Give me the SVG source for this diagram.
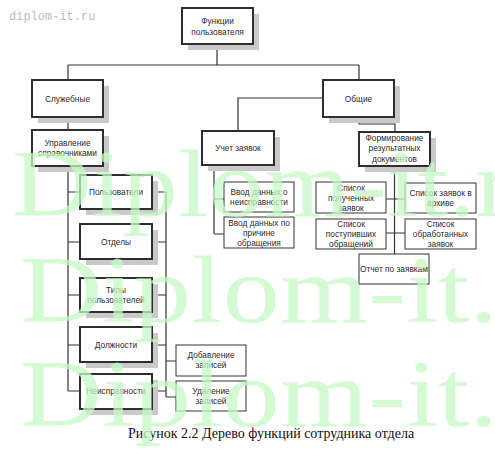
<svg xmlns="http://www.w3.org/2000/svg" width="495" height="460" viewBox="0 0 495 460">
<style>
.bg{fill:#ffffff}
.sh{fill:#c9c9c9}
.bx{fill:#ffffff;stroke:#2e2e2e;stroke-width:2}
.tb{fill:#ffffff;stroke:#333333;stroke-width:1}
.t{font-family:"Liberation Sans",Arial,sans-serif;font-size:8.3px;fill:#2a2a2a;text-anchor:middle;dominant-baseline:central}
.c{fill:none;stroke:#333333;stroke-width:1.2}
.cap{font-family:"Liberation Serif","Times New Roman",serif;font-size:14px;fill:#111111;text-anchor:middle}
.wm{font-family:"Liberation Serif","Times New Roman",serif;font-size:96px;fill:#c6f9c6;opacity:0.75}
.wm2{font-family:"Liberation Mono","Courier New",monospace;font-size:12px;fill:#c6b9b9}
</style>
<rect class="bg" x="0" y="0" width="495" height="460"/>
<text class="wm2" x="9" y="20">diplom-it.ru</text>

<g id="connectors">
<path class="c" d="M217,44 V65 M68,65 H359 M68,65 V80 M359,65 V80"/>
<path class="c" d="M68,117 V130"/>
<path class="c" d="M323,98 H238 V131"/>
<path class="c" d="M359,117 V124 H395 V132"/>
<path class="c" d="M68,166 V391 M68,192 H80 M68,242 H80 M68,295 H80 M68,345 H80 M68,391 H80"/>
<path class="c" d="M152,192 H166 M152,242 H166 M152,295 H166 M152,345 H166 M152,391 H166 M166,192 V397 M166,361 H176 M166,397 H176"/>
<path class="c" d="M214,165 V234 M214,199 H224 M214,234 H224"/>
<path class="c" d="M394.5,166 V254 M386,199 H405 M386,233 H405"/>
</g>

<g id="n-functions">
<rect class="sh" x="188" y="14" width="71" height="36"/>
<rect class="bx" x="182" y="8" width="71" height="36"/>
<text class="t" x="217.5" y="21">Функции</text>
<text class="t" x="217.5" y="32">пользователя</text>
</g>
<g id="n-service">
<rect class="sh" x="38" y="86" width="71" height="37"/>
<rect class="bx" x="32" y="80" width="71" height="37"/>
<text class="t" x="67.5" y="98.5">Служебные</text>
</g>
<g id="n-common">
<rect class="sh" x="329" y="86" width="71" height="37"/>
<rect class="bx" x="323" y="80" width="71" height="37"/>
<text class="t" x="358.5" y="98.5">Общие</text>
</g>
<g id="n-manage">
<rect class="sh" x="38" y="136" width="71" height="36"/>
<rect class="bx" x="32" y="130" width="71" height="36"/>
<text class="t" x="67.5" y="143">Управление</text>
<text class="t" x="67.5" y="153">справочниками</text>
</g>
<g id="n-requests">
<rect class="sh" x="208" y="137" width="72" height="34"/>
<rect class="bx" x="202" y="131" width="72" height="34"/>
<text class="t" x="238" y="148">Учет заявок</text>
</g>
<g id="n-docs">
<rect class="sh" x="365" y="138" width="71" height="34"/>
<rect class="bx" x="359" y="132" width="71" height="34"/>
<text class="t" x="394.5" y="137.5">Формирование</text>
<text class="t" x="394.5" y="148">результатных</text>
<text class="t" x="394.5" y="158.5">документов</text>
</g>
<g id="n-users">
<rect class="sh" x="86" y="181" width="72" height="34"/>
<rect class="bx" x="80" y="175" width="72" height="34"/>
<text class="t" x="116" y="192">Пользователи</text>
</g>
<g id="n-depts">
<rect class="sh" x="86" y="230" width="72" height="35"/>
<rect class="bx" x="80" y="224" width="72" height="35"/>
<text class="t" x="116" y="242">Отделы</text>
</g>
<g id="n-usertypes">
<rect class="sh" x="86" y="284" width="72" height="34"/>
<rect class="bx" x="80" y="278" width="72" height="34"/>
<text class="t" x="116" y="289.5">Типы</text>
<text class="t" x="116" y="299.5">пользователей</text>
</g>
<g id="n-positions">
<rect class="sh" x="86" y="333" width="72" height="35"/>
<rect class="bx" x="80" y="327" width="72" height="35"/>
<text class="t" x="116" y="344.5">Должности</text>
</g>
<g id="n-faults">
<rect class="sh" x="86" y="380" width="72" height="35"/>
<rect class="bx" x="80" y="374" width="72" height="35"/>
<text class="t" x="116" y="391">Неисправности</text>
</g>
<g id="n-add">
<rect class="tb" x="176" y="345" width="70" height="31"/>
<text class="t" x="211" y="354.5">Добавление</text>
<text class="t" x="211" y="364.5">записей</text>
</g>
<g id="n-del">
<rect class="tb" x="176" y="381" width="70" height="30"/>
<text class="t" x="211" y="390.5">Удаление</text>
<text class="t" x="211" y="400.5">записей</text>
</g>
<g id="n-input-fault">
<rect class="tb" x="224" y="182" width="70" height="30"/>
<text class="t" x="259" y="192">Ввод данных о</text>
<text class="t" x="259" y="202">неисправности</text>
</g>
<g id="n-input-reason">
<rect class="tb" x="224" y="217" width="70" height="31"/>
<text class="t" x="259" y="223">Ввод данных по</text>
<text class="t" x="259" y="233">причине</text>
<text class="t" x="259" y="243">обращения</text>
</g>
<g id="n-received">
<rect class="tb" x="316" y="182" width="70" height="31"/>
<text class="t" x="351" y="187.5">Список</text>
<text class="t" x="351" y="197.5">полученных</text>
<text class="t" x="351" y="207.5">заявок</text>
</g>
<g id="n-archive">
<rect class="tb" x="405" y="183" width="71" height="30"/>
<text class="t" x="440.5" y="193">Список заявок в</text>
<text class="t" x="440.5" y="203">архиве</text>
</g>
<g id="n-incoming">
<rect class="tb" x="316" y="219" width="70" height="30"/>
<text class="t" x="351" y="224">Список</text>
<text class="t" x="351" y="234">поступивших</text>
<text class="t" x="351" y="244">обращений</text>
</g>
<g id="n-processed">
<rect class="tb" x="405" y="219" width="71" height="30"/>
<text class="t" x="440.5" y="224">Список</text>
<text class="t" x="440.5" y="234">обработанных</text>
<text class="t" x="440.5" y="244">заявок</text>
</g>
<g id="n-report">
<rect class="tb" x="359" y="254" width="70" height="30"/>
<text class="t" x="394" y="269">Отчет по заявкам</text>
</g>

<text class="cap" x="271" y="438">Рисунок 2.2 Дерево функций сотрудника отдела</text>

<g id="watermark">
<text class="wm" x="12" y="216" textLength="556" lengthAdjust="spacingAndGlyphs">Diplom-it.ru</text>
<text class="wm" x="20" y="322" textLength="573" lengthAdjust="spacingAndGlyphs">Diplom-it.ru</text>
<text class="wm" x="20" y="426" textLength="573" lengthAdjust="spacingAndGlyphs">Diplom-it.ru</text>
</g>
</svg>
